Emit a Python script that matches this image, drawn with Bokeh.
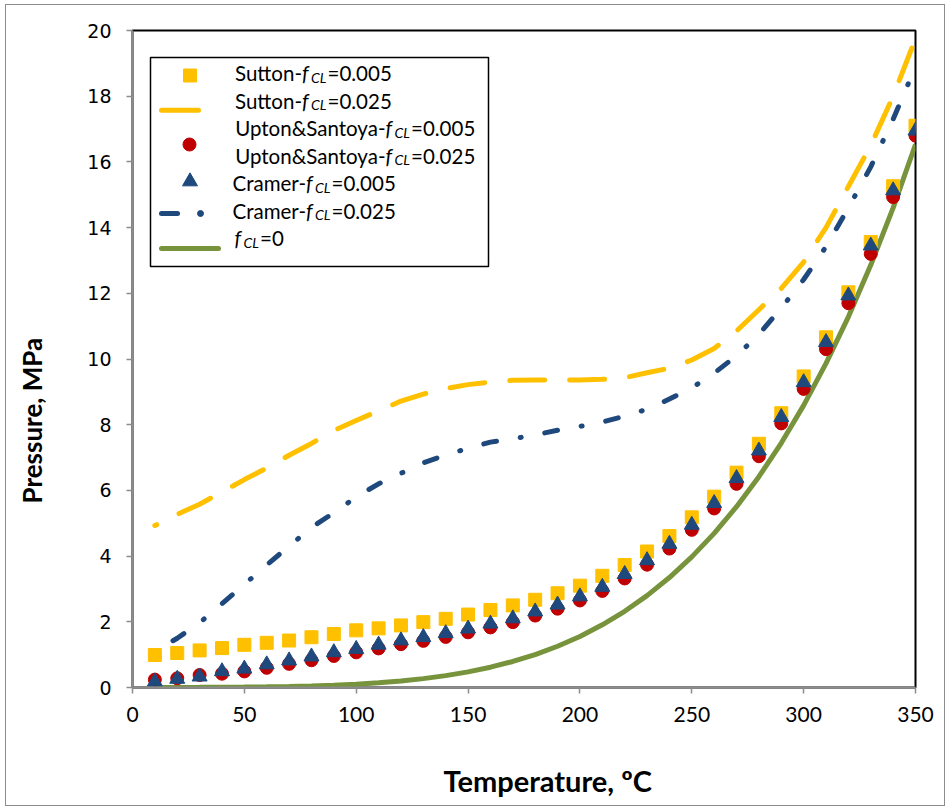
from bokeh.plotting import figure
from bokeh.models import Range1d, FixedTicker, Title
from bokeh.embed import file_html
from bokeh.resources import INLINE
from bokeh.core.properties import value

# ---------------- data ----------------
temperature = [10, 20, 30, 40, 50, 60, 70, 80, 90, 100, 110, 120, 130, 140, 150, 160, 170, 180,
               190, 200, 210, 220, 230, 240, 250, 260, 270, 280, 290, 300, 310, 320, 330, 340, 350]

sutton_005 = [0.99, 1.05, 1.13, 1.20, 1.30, 1.36, 1.43, 1.53, 1.63, 1.74, 1.80, 1.89, 1.99, 2.09,
              2.22, 2.36, 2.50, 2.67, 2.87, 3.10, 3.40, 3.73, 4.14, 4.61, 5.18, 5.81, 6.54, 7.42,
              8.35, 9.47, 10.66, 12.03, 13.56, 15.26, 17.10]

sutton_025 = [4.93, 5.27, 5.58, 5.95, 6.33, 6.68, 7.07, 7.43, 7.82, 8.13, 8.42, 8.72, 8.93, 9.10,
              9.22, 9.30, 9.35, 9.36, 9.36, 9.36, 9.38, 9.43, 9.58, 9.72, 9.97, 10.32, 10.85, 11.50,
              12.15, 12.95, 14.00, 15.25, 16.50, 18.00, 19.75]

upton_005 = [0.24, 0.28, 0.38, 0.42, 0.49, 0.60, 0.72, 0.83, 0.96, 1.07, 1.19, 1.32, 1.42, 1.54,
             1.68, 1.83, 1.99, 2.19, 2.40, 2.65, 2.94, 3.32, 3.74, 4.23, 4.80, 5.45, 6.20, 7.04,
             8.04, 9.09, 10.30, 11.70, 13.20, 14.93, 16.80]

cramer_005 = [0.18, 0.26, 0.33, 0.49, 0.57, 0.70, 0.82, 0.94, 1.07, 1.17, 1.30, 1.43, 1.53, 1.65,
              1.79, 1.94, 2.10, 2.31, 2.52, 2.77, 3.06, 3.45, 3.87, 4.37, 4.95, 5.61, 6.37, 7.21,
              8.23, 9.29, 10.51, 11.93, 13.45, 15.13, 16.95]

cramer_025 = [1.10, 1.50, 1.97, 2.55, 3.14, 3.73, 4.30, 4.87, 5.32, 5.80, 6.20, 6.52, 6.84, 7.08,
              7.28, 7.47, 7.57, 7.69, 7.83, 7.95, 8.08, 8.26, 8.47, 8.78, 9.12, 9.57, 10.10, 10.75,
              11.55, 12.42, 13.42, 14.60, 15.85, 17.30, 18.90]

fcl_0 = [0.00123, 0.00234, 0.00425, 0.00738, 0.01235, 0.01995, 0.0312, 0.0474, 0.0702, 0.1014,
         0.1434, 0.1987, 0.2703, 0.3615, 0.4762, 0.6182, 0.7922, 1.0028, 1.2552, 1.5549, 1.9077,
         2.3196, 2.7971, 3.3469, 3.9762, 4.6923, 5.5030, 6.4166, 7.4418, 8.5879, 9.8651, 11.284,
         12.858, 14.601, 16.529]

x_ticks = [0, 50, 100, 150, 200, 250, 300, 350]
y_ticks = [0, 2, 4, 6, 8, 10, 12, 14, 16, 18, 20]

x_title = "Temperature, ºC"
y_title = "Pressure, MPa"
legend_prefix = ["Sutton-", "Sutton-", "Upton&Santoya-", "Upton&Santoya-", "Cramer-", "Cramer-", ""]
legend_suffix = ["=0.005", "=0.025", "=0.005", "=0.025", "=0.005", "=0.025", "=0"]

# ---------------- styling ----------------
YELLOW = "#FFC000"
RED = "#C00000"
BLUE = "#1F497D"
GREEN = "#77933C"
AXIS_GREY = "#8C8C8C"

X0, X1, Y0, Y1 = 0, 350, 0, 20
# frame position on the page (px)
FL, FR, FT, FB = 132, 915, 30, 687
PAGE_DX, PAGE_DY = 6, 5
W, H = 938, 800


def dx(px):
    return X0 + (px - FL) / (FR - FL) * (X1 - X0)


def dy(py):
    return Y0 + (FB - py) / (FB - FT) * (Y1 - Y0)


p = figure(width=W, height=H, x_range=Range1d(X0, X1), y_range=Range1d(Y0, Y1),
           output_backend="svg", toolbar_location=None,
           min_border_left=FL - PAGE_DX, min_border_right=W - (FR - PAGE_DX),
           min_border_top=FT - PAGE_DY, min_border_bottom=H - (FB - PAGE_DY))
p.margin = (PAGE_DY, 949 - W - PAGE_DX, 810 - H - PAGE_DY, PAGE_DX)
p.styles = {"outline": "1px solid #8C8C8C"}

p.xgrid.visible = False
p.ygrid.visible = False
p.outline_line_color = "black"
p.outline_line_width = 2
p.background_fill_color = "white"
p.border_fill_color = "white"

for ax in (p.xaxis[0], p.yaxis[0]):
    ax.axis_line_color = AXIS_GREY
    ax.axis_line_width = 2
    ax.major_tick_line_color = AXIS_GREY
    ax.major_tick_line_width = 1.5
    ax.major_tick_out = 6
    ax.major_tick_in = 0
    ax.minor_tick_line_color = None
    ax.major_label_text_color = "black"
    # blank axis label used only as a spacer between tick labels and the title
    ax.axis_label = " "
    ax.axis_label_text_font_size = "10px"

p.xaxis.ticker = FixedTicker(ticks=x_ticks)
p.yaxis.ticker = FixedTicker(ticks=y_ticks)
p.xaxis.major_label_text_font = "Lato"
p.xaxis.major_label_text_font_size = "21px"
p.xaxis.major_label_standoff = 13
p.xaxis.axis_label_standoff = 19
p.yaxis.major_label_text_font = "DejaVu Sans"
p.yaxis.major_label_text_font_size = "19px"
p.yaxis.major_label_standoff = 15
p.yaxis.axis_label_standoff = 20

# axis titles as side titles (the reference places them off-centre)
p.add_layout(Title(text=x_title, align="left", offset=311, standoff=6, text_font="Lato",
                   text_font_style="bold", text_font_size="29px", text_color="black"), "below")
p.add_layout(Title(text=y_title, align="left", offset=184, standoff=6, text_font="Lato",
                   text_font_style="bold", text_font_size="26px", text_color="black"), "left")

# ---------------- series ----------------
p.line(temperature, sutton_025, line_color=YELLOW, line_width=5, line_cap="round",
       line_dash="35 25", line_dash_offset=33)
p.line(temperature, cramer_025, line_color=BLUE, line_width=5, line_cap="round",
       line_dash="13 24 1 24", line_dash_offset=41)
p.line(temperature, fcl_0, line_color=GREEN, line_width=5)

p.scatter(temperature, sutton_005, marker="square", size=13, fill_color=YELLOW, line_color=YELLOW)
p.scatter(temperature, upton_005, marker="circle", size=13, fill_color=RED, line_color=RED)
p.scatter(temperature, cramer_005, marker="triangle", size=15, fill_color=BLUE, line_color=BLUE)

# ---------------- legend (drawn by hand to keep italic f and subscript CL) ----------------
p.quad(left=[dx(150)], right=[dx(488)], top=[dy(57)], bottom=[dy(266)],
       fill_color="white", line_color="black", line_width=1.5)

p.scatter([dx(189.5)], [dy(75)], marker="square", size=13, fill_color=YELLOW, line_color=YELLOW)
p.line([dx(161), dx(198)], [dy(109.7), dy(109.7)], line_color=YELLOW, line_width=5, line_cap="round")
p.scatter([dx(189)], [dy(144)], marker="circle", size=13, fill_color=RED, line_color=RED)
p.scatter([dx(189.5)], [dy(181)], marker="triangle", size=15, fill_color=BLUE, line_color=BLUE)
p.line([dx(161), dx(177)], [dy(213), dy(213)], line_color=BLUE, line_width=5, line_cap="round")
p.scatter([dx(200)], [dy(213)], marker="circle", size=6, fill_color=BLUE, line_color=BLUE)
p.line([dx(161), dx(218)], [dy(248), dy(248)], line_color=GREEN, line_width=5, line_cap="round")

row_baseline = [72.6 + 27.5 * i for i in range(7)]
f_start = [301.5, 301.5, 385.0, 385.0, 305.5, 305.5, 234.0]

p.text(x=[dx(f) for f in f_start], y=[dy(b) for b in row_baseline], text=legend_prefix,
       text_font=value("Lato"), text_font_size="20.5px", text_align="right",
       text_baseline="alphabetic", text_color="black")
p.text(x=[dx(f) for f in f_start], y=[dy(b) for b in row_baseline], text=["f"] * 7,
       text_font=value("Lato"), text_font_size="20.5px", text_font_style="italic",
       text_align="left", text_baseline="alphabetic", text_color="black")
p.text(x=[dx(f + 9) for f in f_start], y=[dy(b + 4) for b in row_baseline], text=["CL"] * 7,
       text_font=value("Lato"), text_font_size="14px", text_font_style="italic",
       text_align="left", text_baseline="alphabetic", text_color="black")
p.text(x=[dx(f + 25.5) for f in f_start], y=[dy(b) for b in row_baseline], text=legend_suffix,
       text_font=value("Lato"), text_font_size="20.5px", text_align="left",
       text_baseline="alphabetic", text_color="black")

open("out.html", "w").write(file_html(p, INLINE))
